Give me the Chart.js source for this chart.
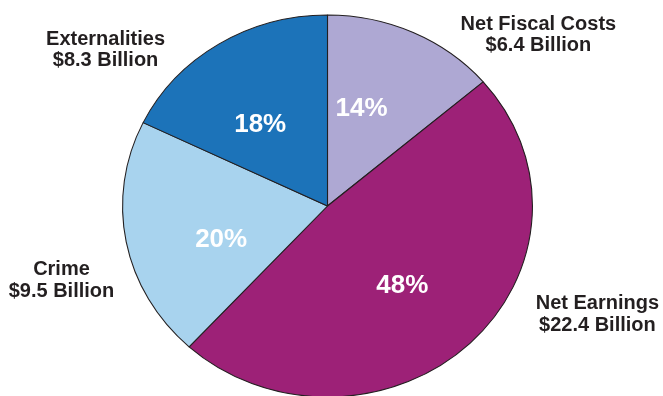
<!DOCTYPE html>
<html lang="en">
  <head>
    <meta charset="utf-8">
    <title>Costs pie</title>
    <style>
      html, body { margin: 0; padding: 0; background: #fff; }
      #wrap { width: 663px; height: 396px; }
    </style>
  </head>
  <body>
    <div id="wrap"><canvas id="pie-chart" width="663" height="396"></canvas></div>
    <script src="https://cdn.jsdelivr.net/npm/chart.js"></script>
    <script>
      // data, clockwise from the top
      var categories = ["Net Fiscal Costs", "Net Earnings", "Crime", "Externalities"];
      var billions = [6.4, 22.4, 9.5, 8.3];
      var valueLabels = ["$6.4 Billion", "$22.4 Billion", "$9.5 Billion", "$8.3 Billion"];

      var colors = ["#aea8d3", "#9d2177", "#a8d3ee", "#1c73b9"];
      var ink = "#231f20";
      var stretchX = 1.073;   // the pie in the picture is a bit wider than tall

      // where the percent sits: nudge (deg) from mid angle, distance as part of radius
      var pctNudge = [-7, 2, -7, -5];
      var pctDist = 0.545;
      // outside name blocks, centre in radius units from the pie centre
      var callout = [[1.029, -0.903], [1.317, 0.559], [-1.298, 0.38], [-1.083, -0.825]];

      var stretch = {
        id: 'stretch',
        beforeDatasetsDraw: function(chart) {
          var a = chart.getDatasetMeta(0).data[0];
          var ctx = chart.ctx;
          ctx.save();
          ctx.translate(a.x, a.y);
          ctx.scale(stretchX, 1);
          ctx.translate(-a.x, -a.y);
        },
        afterDatasetsDraw: function(chart) {
          chart.ctx.restore();
        }
      };

      var labels = {
        id: 'labels',
        afterDraw: function(chart) {
          var ctx = chart.ctx;
          var arcs = chart.getDatasetMeta(0).data;
          var total = billions.reduce(function(s, v) { return s + v; }, 0);
          var cx = arcs[0].x, cy = arcs[0].y, r = arcs[0].outerRadius;
          ctx.save();
          ctx.textAlign = 'center';
          ctx.textBaseline = 'alphabetic';
          arcs.forEach(function(arc, i) {
            var mid = (arc.startAngle + arc.endAngle) / 2 + pctNudge[i] * Math.PI / 180;
            var x = cx + Math.cos(mid) * r * pctDist * stretchX;
            var y = cy + Math.sin(mid) * r * pctDist;
            ctx.fillStyle = '#fff';
            ctx.font = 'bold 26px "Liberation Sans", Arial, sans-serif';
            ctx.fillText(Math.round(billions[i] / total * 100) + '%', x, y + 9.3);

            var bx = cx + callout[i][0] * r * stretchX;
            var by = cy + callout[i][1] * r;
            ctx.fillStyle = ink;
            ctx.font = 'bold 20px "Liberation Sans", Arial, sans-serif';
            ctx.fillText(categories[i], bx, by - 10.75 + 7.2);
            ctx.fillText(valueLabels[i], bx, by + 10.75 + 7.2);
          });
          ctx.restore();
        }
      };

      var pieChart = new Chart(document.getElementById("pie-chart"), {
        type: 'pie',
        data: {
          labels: categories,
          datasets: [{
            data: billions,
            backgroundColor: colors,
            borderColor: ink,
            borderWidth: 1,
            radius: 191
          }]
        },
        options: {
          responsive: false,
          animation: false,
          events: [],
          layout: { padding: { top: 16, bottom: 0, left: 0, right: 8 } },
          plugins: {
            legend: { display: false },
            tooltip: { enabled: false }
          }
        },
        plugins: [stretch, labels]
      });
    </script>
  </body>
</html>
